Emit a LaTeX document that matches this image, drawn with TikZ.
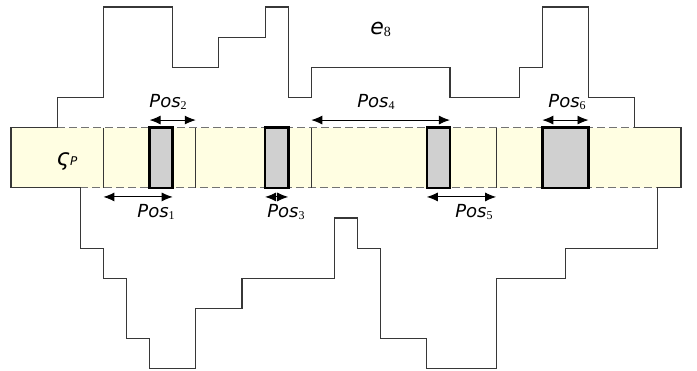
\documentclass[tikz,border=0pt]{standalone}
\usepackage{fontspec}
\usetikzlibrary{arrows.meta}
\newfontfamily\lblsans{DejaVu Sans}
\newfontfamily\lblserif{Liberation Serif}
\definecolor{bandyellow}{RGB}{255,254,226}
\definecolor{boxgray}{RGB}{208,208,208}
\definecolor{edgegray}{RGB}{55,55,55}
\newcommand{\poslbl}[2]{{\lblsans\itshape #1}\raisebox{-0.25ex}{\lblserif\fontsize{12}{13}\selectfont #2}}
\tikzset{
  profile/.style={draw=edgegray, line width=1.2pt, line join=miter},
  bandedge/.style={draw=gray!90!black, line width=0.9pt, dash pattern=on 8pt off 4pt},
  slotedge/.style={draw=edgegray, line width=0.7pt},
  posbox/.style={draw=black, line width=2.6pt, fill=boxgray},
  posarrow/.style={{Latex[length=11pt,width=9pt]}-{Latex[length=11pt,width=9pt]}, line width=0.9pt},
  poslabel/.style={anchor=base, inner sep=0pt, font=\fontsize{18}{21}\selectfont}
}
\begin{document}
\begin{tikzpicture}[x=23.1pt, y=-30.15pt]
\useasboundingbox (-0.476,-0.232) rectangle (29.697,12.073);

\fill [bandyellow] (0,4) rectangle (29,6) ; % bande
\draw [bandedge] (2,4) -- (27,4) ;
\draw [bandedge] (3,6) -- (28,6) ;
\foreach \s in {4,8,13,21} \draw [slotedge] (\s,4) -- (\s,6) ;

% contour du profil
\draw [profile] (0,4) -- (2,4) -- (2,3) -- (4,3) -- (4,0) -- (7,0) -- (7,2) -- (9,2)
  -- (9,1) -- (11,1) -- (11,0) -- (12,0) -- (12,3) -- (13,3) -- (13,2) -- (19,2)
  -- (19,3) -- (22,3) -- (22,2) -- (23,2) -- (23,0) -- (25,0) -- (25,3) -- (27,3)
  -- (27,4) -- (29,4) -- (29,6) -- (28,6) -- (28,8) -- (24,8) -- (24,9) -- (21,9)
  -- (21,12) -- (18,12) -- (18,11) -- (16,11) -- (16,8) -- (15,8) -- (15,7) -- (14,7)
  -- (14,9) -- (10,9) -- (10,10) -- (8,10) -- (8,12) -- (6,12) -- (6,11) -- (5,11)
  -- (5,9) -- (4,9) -- (4,8) -- (3,8) -- (3,6) -- (0,6) -- cycle ;

\draw [posbox] (6,4) rectangle (7,6) ;
\draw [posbox] (11,4) rectangle (12,6) ;
\draw [posbox] (18,4) rectangle (19,6) ;
\draw [posbox] (23,4) rectangle (25,6) ;

\coordinate (p1a) at (4,6.3) ;   \coordinate (p1b) at (7,6.3) ;
\coordinate (p2a) at (6,3.75) ;  \coordinate (p2b) at (8,3.75) ;
\coordinate (p3a) at (11,6.3) ;  \coordinate (p3b) at (12,6.3) ;
\coordinate (p4a) at (13,3.75) ; \coordinate (p4b) at (19,3.75) ;
\coordinate (p5a) at (18,6.3) ;  \coordinate (p5b) at (21,6.3) ;
\coordinate (p6a) at (23,3.75) ; \coordinate (p6b) at (25,3.75) ;

\draw [posarrow] (p1a) -- (p1b) ;
\draw [posarrow] (p2a) -- (p2b) ;
\draw [posarrow] (p3a) -- (p3b) ;
\draw [posarrow] (p4a) -- (p4b) ;
\draw [posarrow] (p5a) -- (p5b) ;
\draw [posarrow] (p6a) -- (p6b) ;

\node [poslabel] (pos1) at (6.28,6.97) {\poslbl{Pos}{1}} ;
\node [poslabel] (pos2) at (6.8,3.32) {\poslbl{Pos}{2}} ;
\node [poslabel] (pos3) at (11.9,6.97) {\poslbl{Pos}{3}} ;
\node [poslabel] (pos4) at (15.8,3.32) {\poslbl{Pos}{4}} ;
\node [poslabel] (pos5) at (20.04,6.97) {\poslbl{Pos}{5}} ;
\node [poslabel] (pos6) at (24.07,3.32) {\poslbl{Pos}{6}} ;
\node [poslabel, font=\fontsize{22}{25}\selectfont] (e8) at (16,0.9)
  {{\lblsans\itshape e}\raisebox{-0.2ex}{\lblserif\fontsize{14}{15}\selectfont 8}} ;
\node [poslabel, font=\fontsize{23}{26}\selectfont] (sigp) at (2.42,5.27)
  {{\lblsans\itshape ς}{\lblsans\itshape\fontsize{12}{13}\selectfont P}} ;

\end{tikzpicture}
\end{document}
